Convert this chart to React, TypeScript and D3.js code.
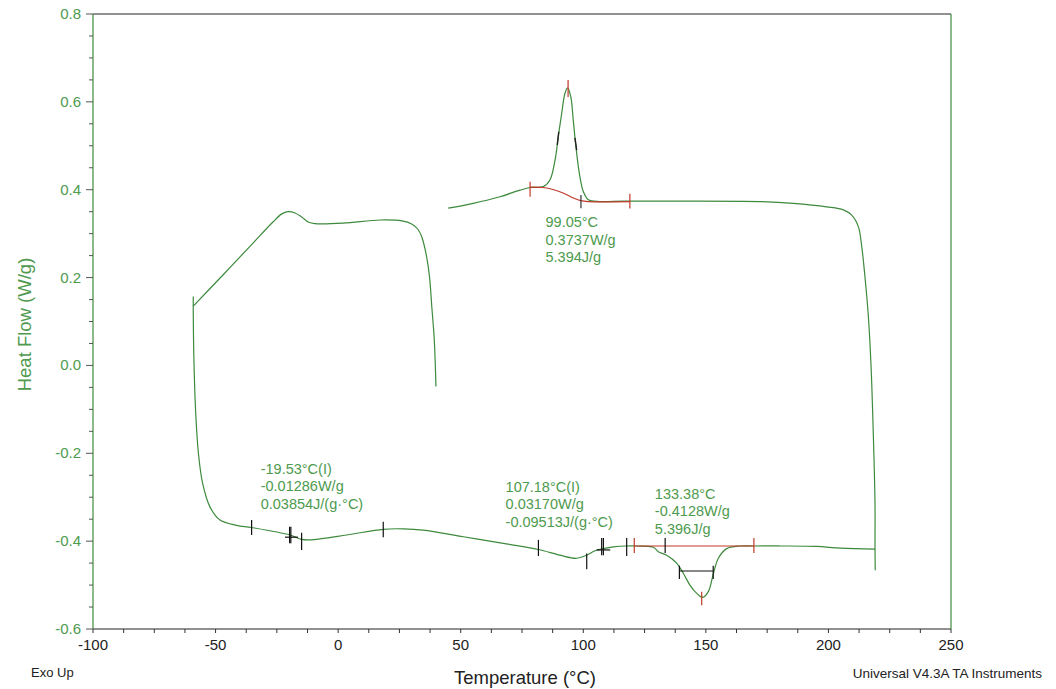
import * as d3 from "d3";
import React from "react";

// first heating segment (upper left)
const seg1: [number, number][] = [
  [-59.1, 0.135], [-46.8, 0.207], [-35.3, 0.275], [-26.5, 0.327], [-23.0, 0.345],
  [-20.5, 0.35], [-17.6, 0.347], [-14.9, 0.338], [-12.0, 0.326], [-9.5, 0.323],
  [2.1, 0.324], [17.1, 0.331], [26.0, 0.329], [30.0, 0.322], [32.5, 0.31],
  [34.1, 0.293], [36.0, 0.25], [37.3, 0.2], [38.2, 0.134], [39.2, 0.06],
  [39.9, -0.048],
];

// upper right segment with crystallisation peak
const seg2: [number, number][] = [
  [44.9, 0.358], [55.1, 0.369], [66.0, 0.384], [74.2, 0.399], [78.3, 0.405],
  [83.7, 0.407], [86.4, 0.422], [88.5, 0.468], [89.8, 0.521], [91.2, 0.574],
  [92.5, 0.619], [93.6, 0.632], [94.9, 0.612], [95.9, 0.559], [97.0, 0.498],
  [98.4, 0.437], [100.0, 0.396], [102.1, 0.377], [106.8, 0.373], [116.3, 0.374],
  [131.3, 0.374], [172.1, 0.373], [185.7, 0.369], [199.3, 0.361], [206.1, 0.354],
  [209.5, 0.342], [212.2, 0.316], [213.6, 0.27], [214.9, 0.202], [216.3, 0.111],
  [217.4, -0.003], [218.3, -0.155], [219.0, -0.314], [219.0, -0.413], [219.1, -0.466],
];

// lower segment
const seg3: [number, number][] = [
  [-59.1, 0.157], [-59.1, 0.119], [-58.8, 0.005], [-58.1, -0.109], [-57.0, -0.2],
  [-55.3, -0.268], [-52.3, -0.322], [-48.2, -0.352], [-41.4, -0.364], [-35.3, -0.369],
  [-19.6, -0.386], [-14.9, -0.396], [-11.5, -0.397], [3.5, -0.386], [18.4, -0.373],
  [26.6, -0.372], [34.7, -0.375], [51.1, -0.39], [67.4, -0.405], [81.7, -0.419],
  [90.5, -0.432], [97.3, -0.439], [101.4, -0.432], [104.8, -0.422], [108.2, -0.417],
  [112.3, -0.413], [117.7, -0.411], [121.8, -0.411], [128.6, -0.414], [130.6, -0.424],
  [134.0, -0.432], [138.1, -0.45], [140.8, -0.473], [143.5, -0.5], [146.3, -0.519],
  [148.7, -0.528], [151.0, -0.515], [153.1, -0.473], [155.1, -0.439], [158.5, -0.417],
  [163.9, -0.411], [169.4, -0.411], [180.2, -0.411], [195.0, -0.412], [205.0, -0.416],
  [219.0, -0.418],
];

// integration baseline under the exotherm
const peakBaseline: [number, number][] = [
  [78.3, 0.406], [83.5, 0.405], [88.0, 0.4], [92.0, 0.392], [96.0, 0.381],
  [99.0, 0.375], [102.0, 0.373], [119.0, 0.373],
];

// vertical analysis markers: temperature, from, to, colour
const markers: [number, number, number, string][] = [
  [78.3, 0.418, 0.384, "#c0392b"],
  [119.0, 0.391, 0.357, "#c0392b"],
  [93.8, 0.65, 0.611, "#c0392b"],
  [99.05, 0.388, 0.358, "#333"],
  [-35.3, -0.352, -0.386, "#111"],
  [-19.8, -0.367, -0.405, "#111"],
  [-19.3, -0.367, -0.405, "#111"],
  [-14.9, -0.381, -0.42, "#111"],
  [18.4, -0.356, -0.391, "#111"],
  [81.7, -0.397, -0.434, "#111"],
  [101.4, -0.428, -0.464, "#111"],
  [107.5, -0.393, -0.432, "#111"],
  [108.2, -0.393, -0.432, "#111"],
  [117.7, -0.393, -0.434, "#111"],
  [120.8, -0.393, -0.427, "#c0392b"],
  [133.4, -0.393, -0.427, "#111"],
  [169.6, -0.393, -0.427, "#c0392b"],
  [139.2, -0.456, -0.486, "#111"],
  [153.0, -0.456, -0.486, "#111"],
  [148.3, -0.515, -0.546, "#c0392b"],
];

// horizontal analysis markers: from, to, heat flow, colour
const hMarkers: [number, number, number, string][] = [
  [-21.7, -16.4, -0.391, "#111"],
  [105.5, 111.0, -0.42, "#111"],
  [120.8, 169.6, -0.411, "#c0392b"],
  [139.2, 153.0, -0.468, "#111"],
];

// short dark pieces on the flanks of the exotherm
const flankMarks: [number, number, number, number][] = [
  [89.4, 0.502, 90.0, 0.532],
  [96.6, 0.518, 97.3, 0.49],
];

const notes: { t: number; hf: number; lines: string[] }[] = [
  { t: 84.6, hf: 0.314, lines: ["99.05°C", "0.3737W/g", "5.394J/g"] },
  { t: -31.6, hf: -0.247, lines: ["-19.53°C(I)", "-0.01286W/g", "0.03854J/(g·°C)"] },
  { t: 68.3, hf: -0.288, lines: ["107.18°C(I)", "0.03170W/g", "-0.09513J/(g·°C)"] },
  { t: 129.2, hf: -0.303, lines: ["133.38°C", "-0.4128W/g", "5.396J/g"] },
];

const xTicks = [-100, -50, 0, 50, 100, 150, 200, 250];
const yTicks = [-0.6, -0.4, -0.2, 0.0, 0.2, 0.4, 0.6, 0.8];

const W = 1056;
const H = 689;
const left = 93, right = 951, top = 14, bottom = 629;
const green = "#3d8a3d";
const textGreen = "#4e9a4e";
const font = "'Liberation Sans', Arial, sans-serif";

export default function App() {
  const x = d3.scaleLinear().domain([-100, 250]).range([left, right]);
  const y = d3.scaleLinear().domain([-0.6, 0.8]).range([bottom, top]);
  const line = d3
    .line<[number, number]>()
    .x((d) => x(d[0]))
    .y((d) => y(d[1]))
    .curve(d3.curveCatmullRom.alpha(0.5));

  const xMinor = d3.range(-100, 250.01, 12.5);
  const yMinor = d3.range(-0.6, 0.8001, 0.05);

  return (
    <svg width={W} height={H} style={{ position: "absolute", left: 0, top: 0, background: "#fff" }} fontFamily={font}>
      {/* frame */}
      <line x1={left} x2={right} y1={top} y2={top} stroke="#222" strokeWidth={1} />
      <line x1={left} x2={right} y1={bottom} y2={bottom} stroke="#222" strokeWidth={1} />
      <line x1={left} x2={left} y1={top} y2={bottom} stroke={green} strokeWidth={1.2} />
      <line x1={right} x2={right} y1={top} y2={bottom} stroke={green} strokeWidth={1.2} />

      {/* x ticks */}
      {xMinor.map((t) => (
        <line key={"xm" + t} x1={x(t)} x2={x(t)} y1={bottom} y2={bottom + 4} stroke="#333" />
      ))}
      {xTicks.map((t) => (
        <text key={"xl" + t} x={x(t)} y={650} textAnchor="middle" fontSize={15} fill="#222">
          {t}
        </text>
      ))}

      {/* y ticks */}
      {yMinor.map((v, i) => (
        <line key={"ym" + i} x1={left - (i % 4 === 0 ? 7 : 4)} x2={left} y1={y(v)} y2={y(v)} stroke="#555" />
      ))}
      {yTicks.map((v) => (
        <text key={"yl" + v} x={81} y={y(v) + 5} textAnchor="end" fontSize={15} fill={textGreen}>
          {v.toFixed(1)}
        </text>
      ))}

      {/* titles */}
      <text transform={`translate(31,${y(0.1) + 3}) rotate(-90)`} textAnchor="middle" fontSize={18.5} fill={textGreen}>
        Heat Flow (W/g)
      </text>
      <text x={525} y={684} textAnchor="middle" fontSize={18.5} fill="#222">
        Temperature (°C)
      </text>
      <text x={31} y={677} fontSize={13} fill="#222">Exo Up</text>
      <text x={1042} y={678} textAnchor="end" fontSize={13.5} fill="#222">
        Universal V4.3A TA Instruments
      </text>

      {/* curves */}
      {[seg1, seg2, seg3].map((s, i) => (
        <path key={"s" + i} d={line(s) || ""} fill="none" stroke={green} strokeWidth={1.2} />
      ))}
      <path d={line(peakBaseline) || ""} fill="none" stroke="#c0392b" strokeWidth={1.2} />

      {flankMarks.map((m, i) => (
        <line key={"f" + i} x1={x(m[0])} x2={x(m[2])} y1={y(m[1])} y2={y(m[3])} stroke="#222" strokeWidth={1.4} />
      ))}
      {hMarkers.map((m, i) => (
        <line key={"h" + i} x1={x(m[0])} x2={x(m[1])} y1={y(m[2])} y2={y(m[2])} stroke={m[3]} strokeWidth={1.2} />
      ))}
      {markers.map((m, i) => (
        <line key={"v" + i} x1={x(m[0])} x2={x(m[0])} y1={y(m[1])} y2={y(m[2])} stroke={m[3]} strokeWidth={1.2} />
      ))}

      {notes.map((n, i) => (
        <text key={"n" + i} x={x(n.t)} y={y(n.hf)} fontSize={14.5} fill={textGreen}>
          {n.lines.map((l, j) => (
            <tspan key={j} x={x(n.t)} dy={j === 0 ? 0 : 17.5}>
              {l}
            </tspan>
          ))}
        </text>
      ))}
    </svg>
  );
}
